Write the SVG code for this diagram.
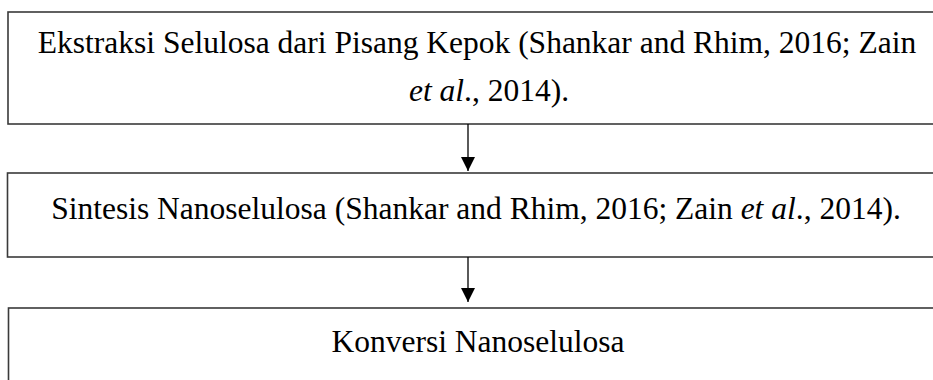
<svg xmlns="http://www.w3.org/2000/svg" width="933" height="380" viewBox="0 0 933 380">
  <defs>
    <style>
      .box { fill: #ffffff; stroke: #3a3a3a; stroke-width: 1.6; }
      .lbl { font-family: "Liberation Serif", "Times New Roman", serif; font-size: 31.5px; fill: #000000; text-anchor: middle; }
      .it { font-style: italic; }
      .conn { stroke: #000000; stroke-width: 1.3; fill: none; }
    </style>
    <marker id="arr" viewBox="0 0 14 15" refX="14" refY="7" markerWidth="14" markerHeight="15" orient="auto" markerUnits="userSpaceOnUse">
      <path d="M0,0 L14,7 L0,14 z" fill="#000000"/>
    </marker>
  </defs>
  <rect width="933" height="380" fill="#ffffff"/>
  <g id="node-ekstraksi">
    <rect class="box" x="8" y="12" width="950" height="112"/>
    <text class="lbl" x="477" y="53">Ekstraksi Selulosa dari Pisang Kepok (Shankar and Rhim, 2016; Zain</text>
    <text class="lbl" x="489" y="101"><tspan class="it">et al</tspan>., 2014).</text>
  </g>
  <g id="node-sintesis">
    <rect class="box" x="7.5" y="173" width="950" height="84"/>
    <text class="lbl" x="476" y="219">Sintesis Nanoselulosa (Shankar and Rhim, 2016; Zain <tspan class="it">et al</tspan>., 2014).</text>
  </g>
  <g id="node-konversi">
    <rect class="box" x="8.5" y="308" width="950" height="100"/>
    <text class="lbl" x="478" y="352">Konversi Nanoselulosa</text>
  </g>
  <g id="connectors">
    <line class="conn" x1="468" y1="124" x2="468" y2="171" marker-end="url(#arr)"/>
    <line class="conn" x1="468" y1="257" x2="468" y2="302" marker-end="url(#arr)"/>
  </g>
</svg>
